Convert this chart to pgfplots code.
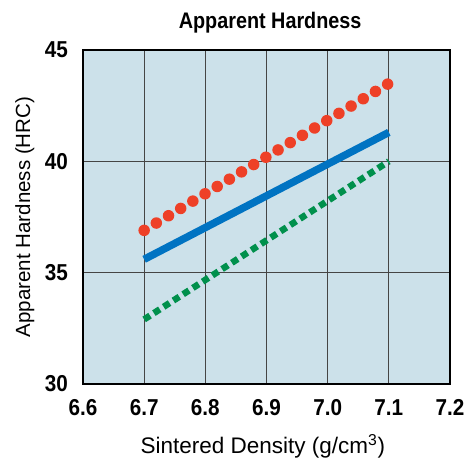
\documentclass[border=0pt]{standalone}
\usepackage{fontspec}
\setmainfont{Liberation Sans}
\newfontfamily\condf[FakeStretch=0.9]{Liberation Sans}
\newfontfamily\condt[FakeStretch=0.88]{Liberation Sans}
\usepackage{pgfplots}
\pgfplotsset{compat=1.18}
\definecolor{bgblue}{HTML}{CCE1EA}
\definecolor{redc}{HTML}{EE4027}
\definecolor{bluec}{HTML}{0073C2}
\definecolor{greenc}{HTML}{00904C}
\definecolor{gridc}{HTML}{454545}
\begin{document}
\begin{tikzpicture}
\begin{axis}[
  scale only axis, width=367bp, height=334bp,
  xmin=6.6, xmax=7.2, ymin=30, ymax=45,
  xtick={6.6,6.7,...,7.2}, ytick={30,35,40,45},
  xticklabels={6.6,6.7,6.8,6.9,7.0,7.1,7.2},
  /pgf/number format/assume math mode=true,
  major tick length=0pt,
  grid=major,
  major grid style={gridc, line width=1.1bp},
  axis line style={black, line width=2bp},
  axis background/.style={fill=bgblue},
  ticklabel style={font=\condf\fontsize{23bp}{26bp}\selectfont\bfseries},
  yticklabel style={anchor=east, inner sep=0pt, xshift=-15bp},
  xticklabel style={anchor=north, inner sep=0pt, yshift=-15bp},
  title={Apparent Hardness},
  title style={at={(axis description cs:0.51,1)}, anchor=base, yshift=16bp, inner sep=0pt, font=\condt\fontsize{22.5bp}{26bp}\selectfont\bfseries},
  xlabel={Sintered Density (g/cm$^{\mathrm{3}}$)},
  xlabel style={at={(axis description cs:0.49,0)}, anchor=base, yshift=-69bp, inner sep=0pt, font=\fontsize{22.5bp}{26bp}\selectfont},
  ylabel={Apparent Hardness (HRC)},
  ylabel style={at={(axis description cs:-0.1444,0.5)}, anchor=base, inner sep=0pt, font=\fontsize{20.5bp}{24bp}\selectfont},
  clip=false,
]
\addplot[bluec, line width=7.5bp, line cap=butt] coordinates {(6.7,35.6) (7.1,41.3)};
\addplot[greenc, line width=6.5bp, dash pattern=on 7bp off 4.6bp] coordinates {(6.7,32.9) (7.1,40.0)};
\addplot[redc, line width=11.5bp, line cap=round, dash pattern=on 0bp off 14.2bp] coordinates {(6.7,36.9) (7.1,43.5)};
\end{axis}
\path ([xshift=-83bp,yshift=-75bp]current axis.south west) rectangle ([xshift=17bp,yshift=50bp]current axis.north east);
\end{tikzpicture}
\end{document}
